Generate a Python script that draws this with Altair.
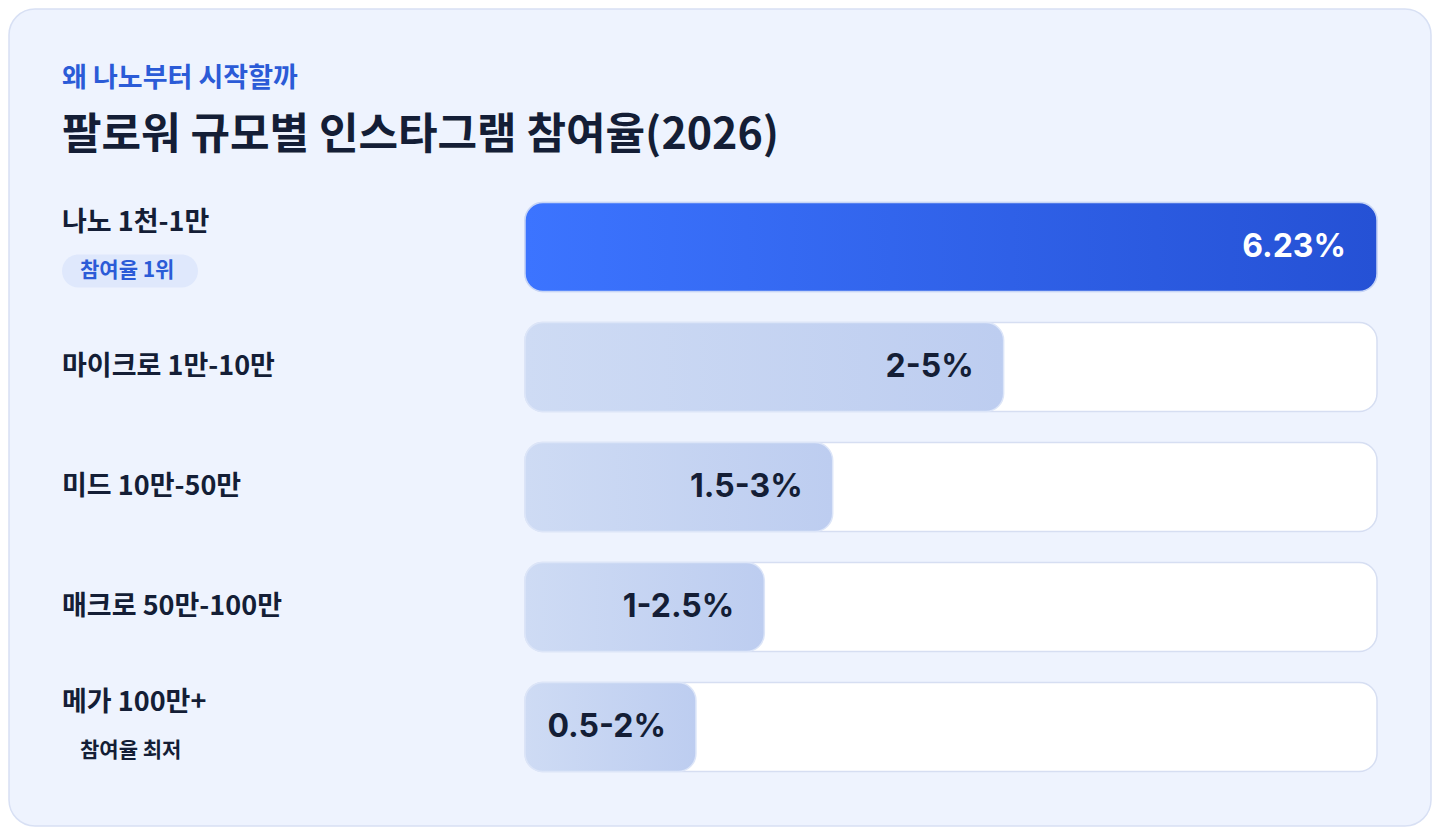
import altair as alt
import pandas as pd

# ---- data ----
categories = ["나노 1천-1만", "마이크로 1만-10만", "미드 10만-50만", "매크로 50만-100만", "메가 100만+"]
values = [6.23, 3.5, 2.25, 1.75, 1.25]          # bar length (range midpoint)
value_labels = ["6.23%", "2-5%", "1.5-3%", "1-2.5%", "0.5-2%"]
notes = ["참여율 1위", "", "", "", "참여율 최저"]
highlight = [True, False, False, False, False]
kicker = "왜 나노부터 시작할까"
title_text = "팔로워 규모별 인스타그램 참여율(2026)"

max_val = max(values)
df = pd.DataFrame({
    "cat": categories,
    "val": values,
    "label": value_labels,
    "note": notes,
    "hi": highlight,
    "track": [max_val] * len(categories),
    "zero": [0] * len(categories),
})

FONT = "Noto Sans CJK KR"
NAVY = "#141E36"
BLUE = "#2B5BD7"

xscale = alt.Scale(domain=[0, max_val], range=[0, 852], nice=False, zero=True)
yscale = alt.Scale(domain=categories, type="band", paddingInner=0.258, paddingOuter=0.129)

base = alt.Chart(df)

card = base.mark_rect(
    fill="#EEF3FE", stroke="#D8E0F4", strokeWidth=1.5, cornerRadius=26
).encode(
    x=alt.value(-516), x2=alt.value(906), y=alt.value(-178), y2=alt.value(639)
).transform_filter(alt.datum.cat == categories[0])

track = base.mark_bar(
    fill="white", stroke="#D6DEF2", strokeWidth=1.5, cornerRadius=18, size=89
).encode(
    x=alt.X("zero:Q", scale=xscale, axis=None),
    x2="track:Q",
    y=alt.Y("cat:N", scale=yscale, axis=None),
)

grad_hi = alt.Gradient(
    gradient="linear", x1=0, x2=1, y1=0, y2=0,
    stops=[alt.GradientStop(offset=0, color="#3C74FF"),
           alt.GradientStop(offset=1, color="#2551D5")],
)
grad_lo = alt.Gradient(
    gradient="linear", x1=0, x2=1, y1=0, y2=0,
    stops=[alt.GradientStop(offset=0, color="#CEDBF4"),
           alt.GradientStop(offset=1, color="#BDCDF0")],
)

bar_hi = base.mark_bar(
    color=grad_hi, stroke="#C7D5F6", strokeWidth=1.5, cornerRadius=18, size=89
).encode(
    x=alt.X("zero:Q", scale=xscale, axis=None), x2="val:Q",
    y=alt.Y("cat:N", scale=yscale, axis=None),
).transform_filter(alt.datum.hi)

bar_lo = base.mark_bar(
    color=grad_lo, stroke="#DCE5F8", strokeWidth=1.5, cornerRadius=18, size=89
).encode(
    x=alt.X("zero:Q", scale=xscale, axis=None), x2="val:Q",
    y=alt.Y("cat:N", scale=yscale, axis=None),
).transform_filter(~alt.datum.hi)

val_hi = base.mark_text(
    align="right", baseline="middle", dx=-31, font="Inter", fontSize=32,
    fontWeight="bold", color="white"
).encode(
    x=alt.X("val:Q", scale=xscale), y=alt.Y("cat:N", scale=yscale), text="label:N"
).transform_filter(alt.datum.hi)

val_lo = base.mark_text(
    align="right", baseline="middle", dx=-30, font="Inter", fontSize=32,
    fontWeight="bold", color=NAVY
).encode(
    x=alt.X("val:Q", scale=xscale), y=alt.Y("cat:N", scale=yscale), text="label:N"
).transform_filter(~alt.datum.hi)

lab_single = base.mark_text(
    align="left", baseline="middle", font=FONT, fontSize=27, fontWeight="bold", color=NAVY
).encode(
    x=alt.value(-463), y=alt.Y("cat:N", scale=yscale), text="cat:N"
).transform_filter(alt.datum.note == "")

lab_double = base.mark_text(
    align="left", baseline="middle", dy=-24, font=FONT, fontSize=27, fontWeight="bold", color=NAVY
).encode(
    x=alt.value(-463), y=alt.Y("cat:N", scale=yscale), text="cat:N"
).transform_filter(alt.datum.note != "")

pill_path = "M -0.757 -0.243 L 0.757 -0.243 A 0.243 0.243 0 0 1 0.757 0.243 L -0.757 0.243 A 0.243 0.243 0 0 1 -0.757 -0.243 Z"
pill = base.mark_point(
    shape=pill_path, filled=True, fill="#DFE8FC", opacity=1, strokeWidth=0, size=136 * 136, yOffset=24
).encode(
    x=alt.value(-395), y=alt.Y("cat:N", scale=yscale)
).transform_filter(alt.datum.hi)

note_hi = base.mark_text(
    align="left", baseline="middle", dy=24, font=FONT, fontSize=21, fontWeight="bold", color=BLUE
).encode(
    x=alt.value(-445), y=alt.Y("cat:N", scale=yscale), text="note:N"
).transform_filter(alt.datum.hi)

note_lo = base.mark_text(
    align="left", baseline="middle", dy=24, font=FONT, fontSize=21, fontWeight="bold", color=NAVY
).encode(
    x=alt.value(-445), y=alt.Y("cat:N", scale=yscale), text="note:N"
).transform_filter((alt.datum.note != "") & (~alt.datum.hi))

kick = base.mark_text(
    align="left", baseline="middle", font=FONT, fontSize=27, fontWeight="bold", color=BLUE
).encode(
    x=alt.value(-463), y=alt.value(-108), text=alt.value(kicker)
).transform_filter(alt.datum.cat == categories[0])

ttl = base.mark_text(
    align="left", baseline="middle", font=FONT, fontSize=43, fontWeight="bold", color=NAVY
).encode(
    x=alt.value(-463), y=alt.value(-51), text=alt.value(title_text)
).transform_filter(alt.datum.cat == categories[0])

chart = alt.layer(
    card, track, bar_hi, bar_lo, val_hi, val_lo, lab_single, lab_double, pill, note_hi, note_lo, kick, ttl
).properties(
    width=852, height=600,
    padding={"left": 517, "right": 55, "top": 179, "bottom": 40},
    autosize=alt.AutoSizeParams(type="none"),
    background="white",
).configure_view(stroke=None)

chart.save("out.html", embed_options={"renderer": "svg", "actions": False})
